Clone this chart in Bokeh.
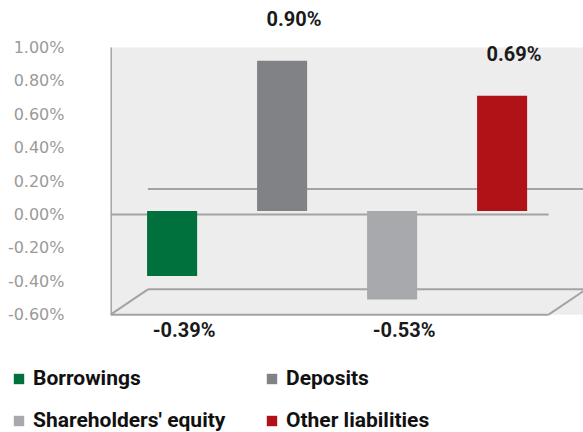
from bokeh.plotting import figure
from bokeh.layouts import column, row
from bokeh.models import (Range1d, FixedTicker, PrintfTickFormatter, Legend,
                          LegendItem, ColumnDataSource)
from bokeh.core.properties import value
from bokeh.embed import file_html
from bokeh.resources import INLINE

# ---- data ----
categories = ["Borrowings", "Deposits", "Shareholders' equity", "Other liabilities"]
changes = [-0.39, 0.90, -0.53, 0.69]          # % change
colors = ["#00703C", "#818286", "#A8A9AD", "#B11217"]
y_ticks = [-0.6, -0.4, -0.2, 0.0, 0.2, 0.4, 0.6, 0.8, 1.0]

# ---- layout / style constants ----
XL, XR = -0.56, 3.74          # frame x extent (bar i at x=i)
YB, YT = -0.8144, 1.2814      # frame y extent
WALL_MIN, WALL_MAX = -0.60, 1.00
FRONT_END = 3.423             # end of front edge lines
DX, DY = 0.34, 0.152          # 3-D depth offset
DEPTH_Y = 0.021               # bars sit slightly behind front plane
BAR_W = 0.455
POS_GAP = 0.27
NEG_LABEL_Y = WALL_MIN - 0.09
LINE_COL = "#A3A3A3"

p = figure(width=583, height=350, output_backend="svg", toolbar_location=None,
           x_range=Range1d(XL, XR), y_range=Range1d(YB, YT),
           x_axis_location=None, min_border_left=110, min_border_right=0,
           min_border_top=0, min_border_bottom=0)
p.grid.visible = False
p.outline_line_color = None
p.background_fill_color = "white"

yax = p.yaxis[0]
yax.ticker = FixedTicker(ticks=y_ticks)
yax.formatter = PrintfTickFormatter(format="%.2f%%")
yax.axis_line_color = None
yax.major_tick_line_color = None
yax.minor_tick_line_color = None
yax.major_label_text_font = "DejaVu Sans"
yax.major_label_text_font_size = "16px"
yax.major_label_text_color = "#9A9A9A"
yax.major_label_standoff = 40

# back wall + floor area
p.quad(left=[XL], right=[XR], bottom=[WALL_MIN], top=[WALL_MAX],
       fill_color="#EDEDED", line_color=None)

# 3-D frame lines
x0 = [XL, XL + DX, XL, XL + DX, XL, FRONT_END]
y0 = [0, DY, WALL_MIN, WALL_MIN + DY, WALL_MIN, WALL_MIN]
x1 = [FRONT_END, XR, FRONT_END, XR, XL + DX, FRONT_END + DX]
y1 = [0, DY, WALL_MIN, WALL_MIN + DY, WALL_MIN + DY, WALL_MIN + DY]
p.segment(x0=x0, y0=y0, x1=x1, y1=y1, line_color=LINE_COL, line_width=2)
# vertical axis line
p.segment(x0=[XL + 0.004], y0=[WALL_MIN], x1=[XL + 0.004], y1=[WALL_MAX],
          line_color=LINE_COL, line_width=2)

xs = list(range(len(categories)))
src = ColumnDataSource(dict(
    x=xs, cat=categories, top=[v + DEPTH_Y for v in changes], color=colors,
    ly=[(v + POS_GAP) if v >= 0 else NEG_LABEL_Y for v in changes],
    lab=[f"{v:.2f}%" for v in changes]))

bars = p.vbar(x="x", width=BAR_W, bottom=DEPTH_Y, top="top", fill_color="color",
              line_color=None, source=src)

p.text(x="x", y="ly", text="lab", source=src, text_align="center",
       text_baseline="middle", x_offset=12, text_font=value("Roboto"),
       text_font_style="bold", text_font_size="20px", text_color="#1A1A1A")

# ---- legend panel (separate strip so it can start left of the plot frame) ----
pl = figure(width=583, height=82, output_backend="svg", toolbar_location=None,
            x_range=Range1d(0, 1), y_range=Range1d(10, 11),
            x_axis_location=None, y_axis_location=None,
            min_border_left=0, min_border_right=0, min_border_top=0,
            min_border_bottom=0)
pl.grid.visible = False
pl.outline_line_color = None
lbars = pl.vbar(x="x", width=BAR_W, bottom=DEPTH_Y, top="top",
                fill_color="color", line_color=None, source=src)

legend = Legend(items=[LegendItem(label=c, renderers=[lbars], index=i)
                       for i, c in enumerate(categories)],
                orientation="horizontal", ncols=2, location=(12, 0),
                glyph_width=13, glyph_height=13, label_standoff=8,
                label_width=214, spacing=18, padding=0, margin=0,
                border_line_color=None, background_fill_alpha=0,
                label_text_font="Roboto", label_text_font_size="21px",
                label_text_font_style="bold", label_text_color="#111111")
pl.add_layout(legend, "center")

layout = column(p, row(pl), spacing=0)
open("out.html", "w").write(file_html(layout, INLINE))
